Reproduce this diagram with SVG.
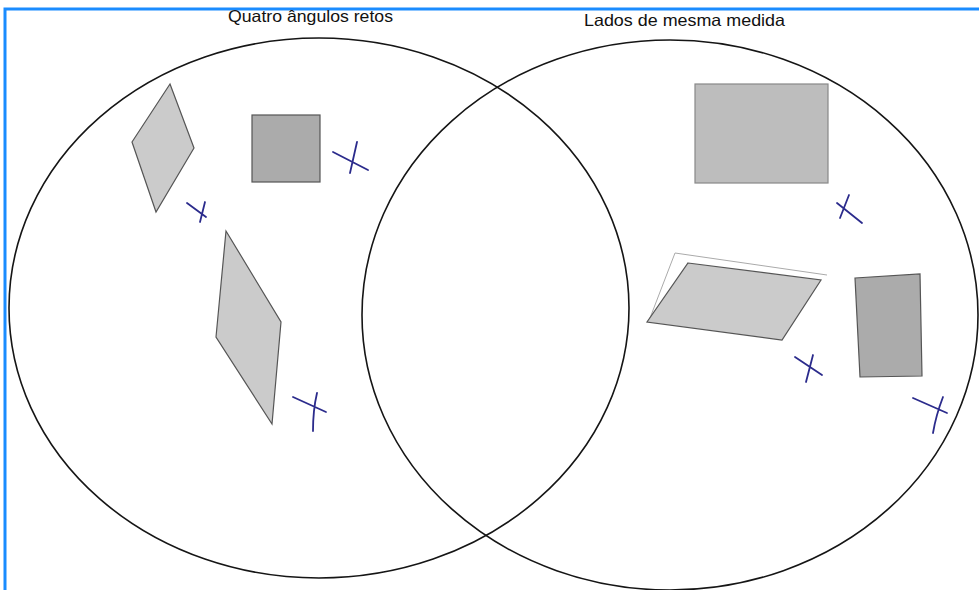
<svg xmlns="http://www.w3.org/2000/svg" width="979" height="590" viewBox="0 0 979 590">
<style>
.lbl{font-family:"Liberation Sans",Arial,sans-serif;font-size:16.5px;fill:#111}
.set{fill:none;stroke:#151515;stroke-width:1.6}
.shape{stroke:#555;stroke-width:1.2}
.light{fill:#cbcbcb}
.mid{fill:#bdbdbd}
.dark{fill:#ababab}
.mark{fill:none;stroke:#2b2b8c;stroke-width:1.8;stroke-linecap:round}
.faint{fill:none;stroke:#aaa;stroke-width:1}
</style>
<rect width="979" height="590" fill="#ffffff"/>
<path d="M5,590 L5,9 L979,9" fill="none" stroke="#1a8cff" stroke-width="3"/>
<g id="connectors"></g>
<g id="set-quatro-angulos">
<ellipse class="set" cx="319" cy="308" rx="310" ry="270"/>
<text class="lbl" x="228" y="22" textLength="165" lengthAdjust="spacingAndGlyphs">Quatro ângulos retos</text>
</g>
<g id="set-lados">
<ellipse class="set" cx="670" cy="315" rx="308" ry="275"/>
<text class="lbl" x="584" y="26" textLength="201" lengthAdjust="spacingAndGlyphs">Lados de mesma medida</text>
</g>
<g id="rhombus-small">
<polygon class="shape light" points="170,84 194,148 156,212 132,142"/>
<path class="mark" d="M187,203 L206,217 M205,202 L200,222"/>
</g>
<g id="square-left">
<rect class="shape dark" x="252" y="115" width="68" height="67"/>
<path class="mark" d="M333,152 L368,170 M357,142 L350,173"/>
</g>
<g id="rhombus-large">
<polygon class="shape light" points="226,231 281,322 272,424 216,337"/>
<path class="mark" d="M293,397 L326,412 M317,393 Q313,410 313,431"/>
</g>
<g id="square-right">
<rect class="shape mid" x="695" y="84" width="133" height="99" style="stroke:#888"/>
<path class="mark" d="M837,203 L862,223 M849,195 L840,218"/>
</g>
<g id="parallelogram">
<path class="faint" d="M675,253 L827,275 M675,253 L650,318"/>
<polygon class="shape light" points="688,263 821,280 782,340 647,322"/>
<path class="mark" d="M795,357 L822,375 M813,355 L806,382"/>
</g>
<g id="rectangle-right">
<polygon class="shape dark" points="855,278 920,274 922,376 860,377"/>
<path class="mark" d="M913,398 L947,413 M943,397 Q936,415 933,433"/>
</g>
</svg>
